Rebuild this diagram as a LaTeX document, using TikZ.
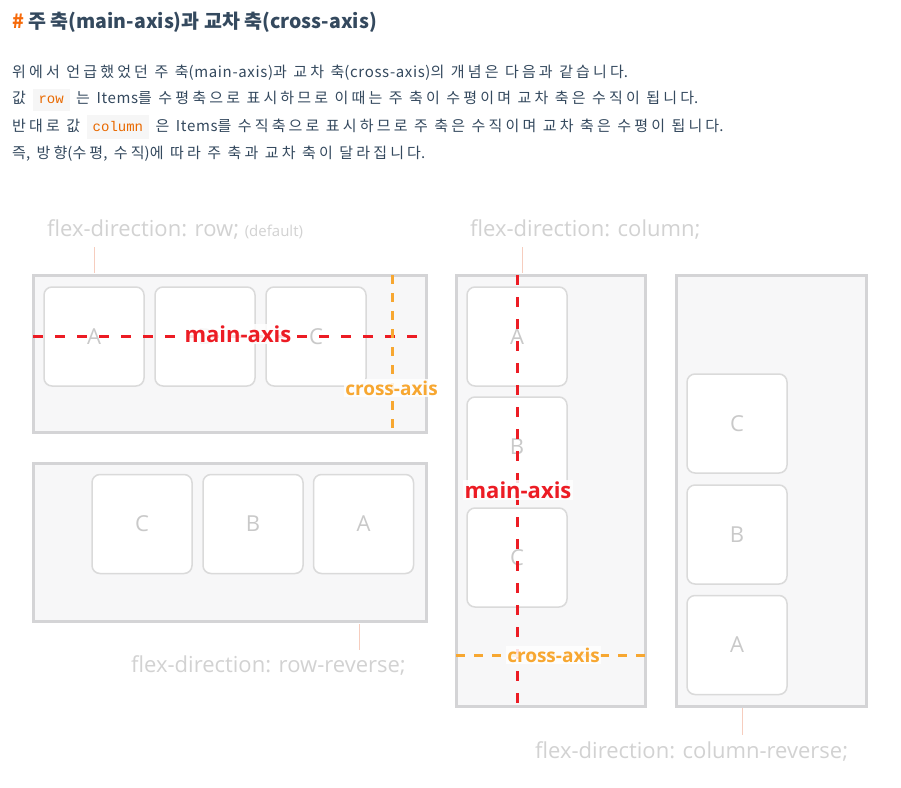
\documentclass[tikz,border=0pt]{standalone}
\usepackage{fontspec}
\newfontfamily\krfont{Noto Sans CJK KR}
\newfontfamily\krbody[LetterSpace=21]{Noto Sans CJK KR}
\newfontfamily\krlat[LetterSpace=4.3]{Noto Sans CJK KR}
\newfontfamily\labfont{Open Sans}
\newfontfamily\codefont{Liberation Mono}
\definecolor{titlecol}{HTML}{34495E}
\definecolor{bodycol}{HTML}{34495E}
\definecolor{hashcol}{HTML}{F66A0A}
\definecolor{codebg}{HTML}{F6F6F6}
\definecolor{codefg}{HTML}{E96900}
\definecolor{boxgray}{HTML}{D4D4D6}
\definecolor{boxfill}{HTML}{F7F7F8}
\definecolor{itemgray}{HTML}{DADADA}
\definecolor{lettergray}{HTML}{C9C9C9}
\definecolor{labgray}{HTML}{D2D2D2}
\definecolor{leadercol}{HTML}{F6CDBE}
\definecolor{axred}{HTML}{EC1C24}
\definecolor{axorange}{HTML}{F7A731}
\newcommand{\codebox}[1]{{\setlength{\fboxsep}{6pt}\colorbox{codebg}{\codefont\fontsize{14}{15}\selectfont\color{codefg}\rule[-2pt]{0pt}{10pt}#1}}}
\newcommand{\lat}[1]{{\krlat #1}}
\begin{document}
\begin{tikzpicture}[x=1pt,y=-1pt,
  outer/.style={draw=boxgray, line width=3pt, fill=boxfill, inner sep=0pt},
  item/.style={draw=itemgray, line width=1.5pt, fill=white, rounded corners=8pt, inner sep=0pt,
    minimum width=100pt, minimum height=99pt, font=\labfont\fontsize{22}{24}\selectfont, text=lettergray},
  lab/.style={font=\labfont\fontsize{22}{24}\selectfont, text=labgray, anchor=base west, inner sep=0pt},
  leader/.style={draw=leadercol, line width=0.8pt},
  mainax/.style={draw=axred, line width=3pt, dash pattern=on 10pt off 12pt},
  crossax/.style={draw=axorange, line width=3pt, dash pattern=on 9pt off 9pt},
  mainlab/.style={font=\labfont\bfseries\fontsize{22}{24}\selectfont, text=axred, fill=white, fill opacity=0.85, text opacity=1, inner sep=1.5pt, anchor=base},
  crosslab/.style={font=\labfont\bfseries\fontsize{19}{21}\selectfont, text=axorange, fill=white, fill opacity=0.85, text opacity=1, inner sep=1.5pt, anchor=base},
  body/.style={font=\fontsize{15}{16}\selectfont\krbody, text=bodycol, anchor=base west, inner sep=0pt}
]
\useasboundingbox (0,0) rectangle (901,787);
\fill[white] (0,0) rectangle (901,787);

% heading and text
\node[font=\krfont\bfseries\fontsize{19.5}{21}\selectfont, text=titlecol, anchor=base west, inner sep=0pt] (title) at (12,28)
  {{\color{hashcol}\#} 주 축(main-axis)과 교차 축(cross-axis)};
\node[body] (l1) at (12,77) {위에서 언급했었던 주 축\lat{(main-axis)}과 교차 축\lat{(cross-axis)}의 개념은 다음과 같습니다\lat{.}};
\node[body] (l2) at (12,103) {값 \codebox{row} 는 \lat{Items}를 수평축으로 표시하므로 이때는 주 축이 수평이며 교차 축은 수직이 됩니다\lat{.}};
\node[body] (l3) at (12,131) {반대로 값 \codebox{column} 은 \lat{Items}를 수직축으로 표시하므로 주 축은 수직이며 교차 축은 수평이 됩니다\lat{.}};
\node[body] (l4) at (12,158) {즉\lat{,} 방향\lat{(}수평\lat{,} 수직\lat{)}에 따라 주 축과 교차 축이 달라집니다\lat{.}};

% ---------- row ----------
\node[outer, minimum width=393pt, minimum height=157pt] (row) at (229.5,353.5) {};
\node[item] (ra) at (94,336.5) {A};
\node[item] (rb) at (205,336.5) {B};
\node[item] (rc) at (316,336.5) {C};
\coordinate (rm1) at (33,336);
\coordinate (rm2) at (426,336);
\draw[mainax] (rm1) -- (rm2);
\coordinate (rc1) at (392,275);
\coordinate (rc2) at (392,432);
\draw[crossax] (rc1) -- (rc2);
\node[mainlab] (rml) at (238,342) {main-axis};
\node[crosslab] (rcl) at (391.5,395) {cross-axis};
\node[lab] (rowlab) at (47,236) {flex-direction: row; {\fontsize{15}{16}\selectfont(default)}};
\coordinate (rl1) at (94,247);
\coordinate (rl2) at (94,273);
\draw[leader] (rl1) -- (rl2);

% ---------- row-reverse ----------
\node[outer, minimum width=393pt, minimum height=158pt] (rrow) at (229.5,542.5) {};
\node[item] (rrc) at (142,524) {C};
\node[item] (rrb) at (253,524) {B};
\node[item] (rra) at (363.5,524) {A};
\node[lab] (rrowlab) at (131,672) {flex-direction: row-reverse;};
\coordinate (rrl1) at (359,624);
\coordinate (rrl2) at (359,650);
\draw[leader] (rrl1) -- (rrl2);

% ---------- column ----------
\node[outer, minimum width=189pt, minimum height=431pt] (col) at (550.5,490.5) {};
\node[item] (ca) at (517,336.5) {A};
\node[item] (cb) at (517,446.5) {B};
\node[item] (cc) at (517,557.5) {C};
\coordinate (cm1) at (517,275);
\coordinate (cm2) at (517,706);
\draw[mainax] (cm1) -- (cm2);
\coordinate (cx1) at (456,655);
\coordinate (cx2) at (645,655);
\draw[crossax] (cx1) -- (cx2);
\node[mainlab] (cml) at (518,498) {main-axis};
\node[crosslab] (ccl) at (553.5,662) {cross-axis};
\node[lab] (collab) at (470,236) {flex-direction: column;};
\coordinate (cl1) at (522,247);
\coordinate (cl2) at (522,273);
\draw[leader] (cl1) -- (cl2);

% ---------- column-reverse ----------
\node[outer, minimum width=190pt, minimum height=431pt] (rcol) at (771,490.5) {};
\node[item] (rcc) at (737,423.5) {C};
\node[item] (rcb) at (737,534.5) {B};
\node[item] (rca) at (737,645) {A};
\node[lab] (rcollab) at (535,758) {flex-direction: column-reverse;};
\coordinate (rcl1) at (742,708);
\coordinate (rcl2) at (742,735);
\draw[leader] (rcl1) -- (rcl2);
\end{tikzpicture}
\end{document}
